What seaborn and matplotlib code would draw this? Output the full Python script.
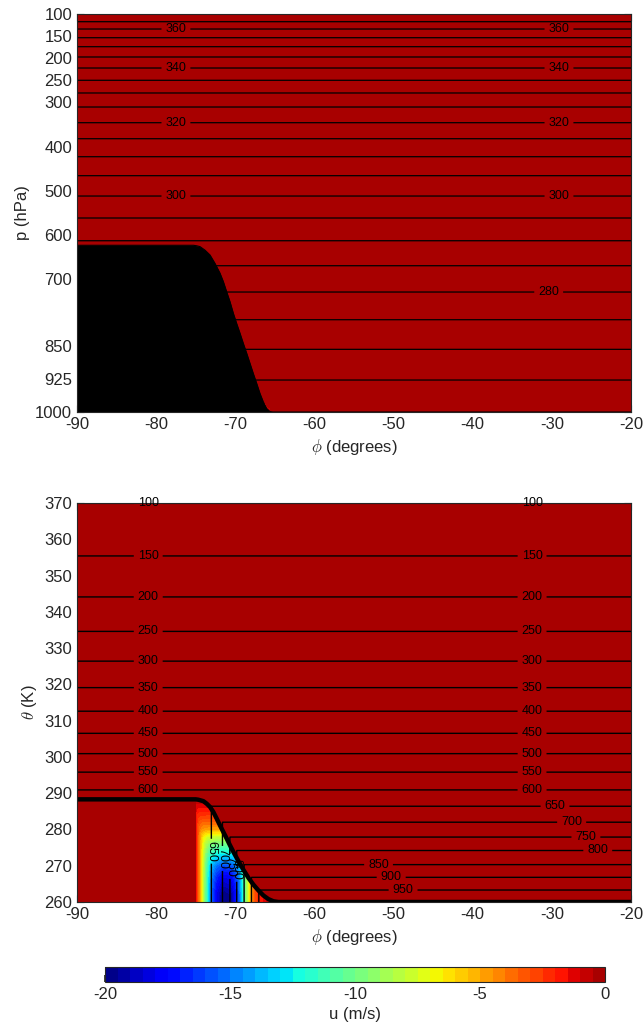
import numpy as np
import pandas as pd
import matplotlib
matplotlib.use("Agg")
import matplotlib.pyplot as plt
import seaborn as sns
from matplotlib.colors import ListedColormap

# ---------------- data ----------------
# Upper panel: isentropes (K) and the pressure (hPa) at which each lies
isen_theta = [260, 265, 270, 275, 280, 285, 290, 295, 300, 305, 310, 315,
              320, 325, 330, 335, 340, 345, 350, 355, 360, 365, 370]
isen_press = [999.0, 927.7, 858.3, 791.3, 728.7, 669.2, 612.7, 561.3, 511.6,
              465.6, 422.7, 382.0, 345.8, 310.3, 278.6, 249.9, 222.1, 197.2,
              173.9, 153.6, 133.9, 117.4, 101.5]
isen_drawn = list(range(265, 370, 5))

# Lower panel: isobars (hPa) and the potential temperature (K) of each
isobar_press = [100, 150, 200, 250, 300, 350, 400, 450, 500, 550, 600, 650,
                700, 750, 800, 850, 900, 950, 1000]
isobar_theta = [369.9, 355.4, 344.1, 334.6, 326.4, 319.1, 312.6, 306.5, 300.9,
                295.8, 290.9, 286.4, 282.0, 277.9, 274.2, 270.3, 266.8, 263.3,
                259.9]
isobar_drawn = list(range(100, 1000, 50))

# Surface pressure vs latitude (upper panel)
sfc_phi = [-90, -75.3, -74.9, -74.46, -73.83, -73.19, -72.56, -71.93, -71.51,
           -71.09, -70.66, -70.24, -69.82, -69.40, -68.98, -68.56, -68.14,
           -67.72, -67.30, -66.88, -66.46, -66.04, -65.62, -65.25, -20]
sfc_p = [623, 623, 624, 626, 634, 645, 664, 686, 705, 728, 751, 777, 800,
         822, 845, 867, 890, 913, 935, 958, 977, 992, 999, 1000, 1000]

# Surface potential temperature vs latitude (lower panel)
sfc_th_phi = [-90, -75.0, -74.67, -74.03, -73.61, -73.19, -72.77, -72.35,
              -71.93, -71.51, -71.09, -70.66, -70.24, -69.61, -68.98, -68.35,
              -67.72, -67.08, -66.45, -65.82, -65.19, -64.56, -20]
sfc_theta = [288.3, 288.3, 288.2, 287.8, 287.1, 286.2, 284.8, 283.0, 281.1,
             279.3, 277.5, 275.6, 273.8, 271.3, 268.9, 266.7, 264.8, 263.2,
             261.8, 260.8, 260.2, 260.0, 260.0]

# Zonal wind of the low-level easterly jet (m/s)
jet_phi = [-75.05, -74.96, -74.5, -74.1, -73.7, -73.3, -72.9, -72.4, -71.5,
           -70.5, -69.8, -69.4, -69.0, -68.7, -68.35, -68.0, -67.5, -66.9,
           -66.0, -65.2]
jet_u_floor = [0, -2, -5, -8, -11, -14, -16, -18, -20, -19.5, -17, -15, -12,
               -10, -8, -5, -3, -2, -1, 0]        # along the 260 K floor
jet_theta = [260, 262, 267, 270, 272, 274, 276, 278, 280, 283, 286, 288.5]
jet_u_column = [-20, -20, -18, -16, -14, -12, -10, -8, -5, -3, -1.5, -0.5]

u_ticks = [-20, -15, -10, -5, 0]
phi_ticks = [-90, -80, -70, -60, -50, -40, -30, -20]
p_ticks = [100, 150, 200, 250, 300, 400, 500, 600, 700, 850, 925, 1000]
th_ticks = list(range(260, 371, 10))

# --------------------------------------------------------------
sns.set_theme(style="ticks")
plt.rcParams['font.family'] = ['Liberation Sans', 'DejaVu Sans']
plt.rcParams['mathtext.fontset'] = 'cm'
plt.rcParams['axes.unicode_minus'] = False
plt.rcParams['axes.edgecolor'] = '#262626'
plt.rcParams['xtick.color'] = '#262626'
plt.rcParams['ytick.color'] = '#262626'
BLACK = '#000000'


def interp_ext(x, xp, fp):
    xp = np.asarray(xp, float)
    fp = np.asarray(fp, float)
    order = np.argsort(xp)
    xp, fp = xp[order], fp[order]
    y = np.interp(x, xp, fp)
    lo = x < xp[0]
    hi = x > xp[-1]
    y = np.where(lo, fp[0] + (x - xp[0]) * (fp[1] - fp[0]) / (xp[1] - xp[0]), y)
    y = np.where(hi, fp[-1] + (x - xp[-1]) * (fp[-1] - fp[-2]) / (xp[-1] - xp[-2]), y)
    return y


def jet_u(phi, theta, k=3.0):
    a = np.interp(phi, jet_phi, jet_u_floor, left=0, right=0) / -20.0
    b = np.interp(theta, jet_theta, jet_u_column, left=-20, right=0) / -20.0
    a = np.clip(a, 1e-6, 1.0)
    b = np.clip(b, 1e-6, 1.0)
    m = (a ** -k + b ** -k - 1.0) ** (-1.0 / k)   # rounded minimum
    u = -20.0 * m
    th_s = np.interp(phi, sfc_th_phi, sfc_theta)
    return np.where(theta <= th_s, u, 0.0)


cmap = ListedColormap(plt.cm.jet(np.linspace(0.0, 0.973, 256)))
u_levels = np.linspace(-20, 0, 41)

phi = np.linspace(-90, -20, 1401)

fig = plt.figure(figsize=(6.44, 10.25), dpi=100)
ax1 = fig.add_axes([77 / 644, 1 - 412 / 1025, 554 / 644, 398 / 1025])
ax2 = fig.add_axes([77 / 644, 1 - 902 / 1025, 554 / 644, 399 / 1025])
cax = fig.add_axes([105 / 644, 1 - 982 / 1025, 500 / 644, 15 / 1025])

# ---------------- upper panel: pressure coordinates ----------------
p = np.linspace(100, 1000, 601)
PHI1, P1 = np.meshgrid(phi, p)
TH1 = interp_ext(P1, isen_press, isen_theta)
U1 = np.clip(jet_u(PHI1, TH1), -20, 0)

ax1.contourf(PHI1, P1, U1, levels=u_levels, cmap=cmap, vmin=-20, vmax=0)
cs1 = ax1.contour(PHI1, P1, TH1, levels=isen_drawn, colors=BLACK,
                  linewidths=0.9)
ps_line = np.interp(phi, sfc_phi, sfc_p)
ax1.fill_between(phi, ps_line, 1000, color=BLACK, zorder=3, lw=0)
sns.lineplot(x=sfc_phi, y=sfc_p, color=BLACK, lw=0.8, ax=ax1, zorder=3)
ax1.set_xlim(-90, -20)
ax1.set_ylim(1000, 100)
ax1.set_xticks(phi_ticks)
ax1.set_yticks(p_ticks)
ax1.set_xlabel(r'$\phi$ (degrees)', fontsize=12)
ax1.set_ylabel('p (hPa)', fontsize=12)

lab1 = []
for lev in [360, 340, 320, 300]:
    pp = float(np.interp(lev, isen_theta, isen_press))
    lab1 += [(-77.5, pp), (-29.1, pp)]
lab1 += [(-30.4, float(np.interp(280, isen_theta, isen_press)))]
ax1.clabel(cs1, manual=lab1, fmt='%d', fontsize=9, inline=True,
           inline_spacing=4)

# ---------------- lower panel: isentropic coordinates ----------------
th = np.linspace(260, 370, 881)
PHI2, TH2 = np.meshgrid(phi, th)
P_free = interp_ext(TH2, isobar_theta, isobar_press)
P2 = np.minimum(P_free, np.interp(PHI2, sfc_phi, sfc_p))
U2 = np.clip(jet_u(PHI2, TH2), -20, 0)

cf = ax2.contourf(PHI2, TH2, U2, levels=u_levels, cmap=cmap, vmin=-20, vmax=0)
cs2 = ax2.contour(PHI2, TH2, P2, levels=isobar_drawn, colors=BLACK,
                  linewidths=1.0)
sns.lineplot(x=sfc_th_phi, y=sfc_theta, color=BLACK, lw=3.2, ax=ax2,
             zorder=4)
ax2.set_xlim(-90, -20)
ax2.set_ylim(260, 370)
ax2.set_xticks(phi_ticks)
ax2.set_yticks(th_ticks)
ax2.set_xlabel(r'$\phi$ (degrees)', fontsize=12)
ax2.set_ylabel(r'$\theta$ (K)', fontsize=12)

lab2 = []
for lev in range(100, 650, 50):
    tt = float(np.interp(lev, isobar_press, isobar_theta))
    lab2 += [(-81.0, tt), (-32.5, tt)]
right_x = {650: -29.6, 700: -27.5, 750: -25.7, 800: -24.2,
           850: -51.9, 900: -50.3, 950: -48.8}
for lev, xx in right_x.items():
    lab2.append((xx, float(np.interp(lev, isobar_press, isobar_theta))))
ax2.clabel(cs2, manual=lab2, fmt='%d', fontsize=9, inline=True,
           inline_spacing=4)
jet_lab = [(-73.1, 274.0), (-71.6, 272.0), (-70.75, 269.8), (-69.8, 269.0)]
ax2.clabel(cs2, manual=jet_lab, fmt='%d', fontsize=9, inline=True,
           inline_spacing=2, rightside_up=False)

for ax in (ax1, ax2):
    for t in ax.texts:
        t.set_clip_on(False)
        t.set_color(BLACK)
        t.set_zorder(7)
    ax.tick_params(direction='in', length=5, width=0.8, labelsize=12,
                   top=True, right=True, colors='#262626')
    for s in ax.spines.values():
        s.set_linewidth(0.8)
        s.set_zorder(6)

# ---------------- colour bar ----------------
cb = fig.colorbar(cf, cax=cax, orientation='horizontal', ticks=u_ticks)
cb.set_label('u (m/s)', fontsize=12)
cax.tick_params(direction='in', length=5, labelsize=12, colors='#262626')
cb.outline.set_linewidth(0.8)
cb.outline.set_edgecolor('#262626')

fig.savefig('out.png', dpi=100)
